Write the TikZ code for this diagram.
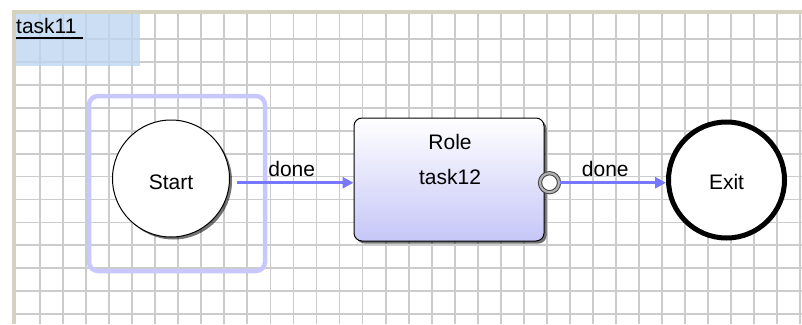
\documentclass[tikz,border=0pt]{standalone}
\usepackage{fontspec}
\setmainfont{Liberation Sans}
\usepackage{xcolor}
\usetikzlibrary{arrows.meta,positioning,shadows}

\definecolor{gridgray}{RGB}{204,204,204}
\definecolor{framebeige}{RGB}{214,210,192}
\definecolor{selblue}{RGB}{190,214,240}
\definecolor{sellav}{RGB}{200,200,255}
\definecolor{flowblue}{RGB}{120,120,255}
\definecolor{rolelav}{RGB}{198,198,248}

\tikzset{
  txt/.style={font=\fontsize{21}{25}\selectfont},
  shade/.style={drop shadow={shadow xshift=2.5pt,shadow yshift=-2.5pt,fill=black,opacity=0.55}},
  startstate/.style={circle,draw,line width=1pt,fill=white,minimum size=117pt,inner sep=0pt,txt,
    text height=23pt,shade},
  exitstate/.style={circle,draw,line width=5pt,fill=white,minimum size=116pt,inner sep=0pt,txt,
    text height=19pt},
  taskbox/.style={rectangle,rounded corners=8pt,draw,line width=1pt,top color=white,bottom color=rolelav,
    minimum width=190pt,minimum height=123pt,inner sep=0pt,shade},
  port/.style={circle,draw=black!75,double=black!30,double distance=2.2pt,line width=1pt,fill=white,
    minimum size=19pt,inner sep=0pt},
  flow/.style={draw=flowblue,line width=2.8pt,-{Triangle[length=11pt,width=11pt]}},
  flowlabel/.style={txt,inner sep=0pt}
}

\begin{document}
\begin{tikzpicture}[x=1pt,y=-1pt]
\useasboundingbox (0,0) rectangle (802,324);
% window frame and grid
\fill[white] (0,0) rectangle (802,324);
\foreach \i in {0,...,33} \draw[gridgray,line width=1.8pt] (40+23.04*\i,14) -- (40+23.04*\i,324);
\foreach \j in {0,...,12} \draw[gridgray,line width=1.8pt] (15,39+22.93*\j) -- (802,39+22.93*\j);
\fill[framebeige] (12,10) rectangle (802,14);
\fill[framebeige] (12,10) rectangle (15.5,324);
\fill[selblue,opacity=0.8] (15.5,14) rectangle (140,66);
\node[txt,anchor=base west,inner sep=0pt] (title) at (16,33) {task11};
\draw[line width=1.5pt] (title.base west) ++(0,5) -- ++(67,0);

% selection around start
\draw[sellav,line width=4.5pt,rounded corners=9pt] (89,96) rectangle (265,271);

\node[startstate] (start) at (171,178.5) {Start};
\node[taskbox] (task) at (449,179.5) {};
\node[txt] (role) at (450,142) {Role};
\node[txt] (tname) at (450,177) {task12};
\node[port] (port) at (549.5,182.7) {};
\node[exitstate] (exit) at (726.5,180) {Exit};

\draw[flow,shorten <=7pt] (start.east |- port) -- (task.west |- port)
  node[flowlabel,midway,above=5pt] (done1) {done};
\draw[flow] (port.east) -- (exit.west |- port)
  node[flowlabel,pos=0.43,above=5pt] (done2) {done};
\end{tikzpicture}
\end{document}
